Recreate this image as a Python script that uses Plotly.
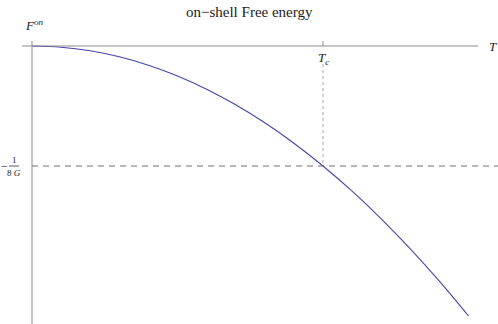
import plotly.graph_objects as go

# Temperature in units of Tc, free energy in units of 1/(8G)
T_vals = [0.0, 0.1, 0.2, 0.3, 0.4, 0.5, 0.6, 0.7, 0.8, 0.9, 1.0, 1.1, 1.2, 1.3, 1.4, 1.5]
F_vals = [0.0, -0.01, -0.04, -0.09, -0.16, -0.25, -0.36, -0.49, -0.64, -0.81, -1.0,
          -1.21, -1.44, -1.69, -1.96, -2.25]
Tc = 1.0
F_crit = -1.0

serif = "Liberation Serif, Times New Roman, serif"
axis_col = "#8c8c8c"
txt = "#222222"

xr = [-32 / 291, (498 - 32) / 291]
yr = [-(324 - 46) / 120, 46 / 120]

fig = go.Figure()
fig.add_trace(go.Scatter(x=T_vals, y=F_vals, mode="lines",
                         line=dict(color="#4444aa", width=1.1, shape="spline"),
                         hoverinfo="skip", showlegend=False))

shapes = [
    dict(type="line", xref="x", yref="y", x0=-10 / 291, x1=(478 - 32) / 291, y0=0, y1=0,
         line=dict(color=axis_col, width=1)),
    dict(type="line", xref="x", yref="y", x0=0, x1=0, y0=5 / 120, y1=yr[0],
         line=dict(color=axis_col, width=1)),
    dict(type="line", xref="x", yref="y", x0=Tc, x1=Tc, y0=0, y1=5 / 120,
         line=dict(color=axis_col, width=1)),
    dict(type="line", xref="x", yref="y", x0=Tc, x1=Tc, y0=-18 / 120, y1=F_crit,
         line=dict(color="#a8a8a8", width=1, dash="dot")),
    dict(type="line", xref="x", yref="y", x0=0, x1=xr[1], y0=F_crit, y1=F_crit,
         line=dict(color="#665a6a", width=0.9, dash="6px,5px")),
    dict(type="line", xref="x", yref="y", x0=-23 / 291, x1=-13 / 291, y0=F_crit, y1=F_crit,
         line=dict(color="#333333", width=0.8)),
]

ann = [
    dict(x=0.5, y=1 - 12 / 324, xref="paper", yref="paper", yanchor="middle",
         text="on−shell Free energy", showarrow=False,
         font=dict(family=serif, size=15, color=txt)),
    dict(x=(493 - 32) / 291, y=0, xref="x", yref="y", text="<i>T</i>", showarrow=False,
         font=dict(family=serif, size=13, color=txt)),
    dict(x=0, y=21 / 120, xref="x", yref="y", text="<i>F</i><sup><i>on</i></sup>",
         xanchor="left", xshift=-9,
         showarrow=False, font=dict(family=serif, size=13, color=txt)),
    dict(x=Tc, y=-12 / 120, xref="x", yref="y", text="<i>T</i><sub><i>c</i></sub>",
         showarrow=False, font=dict(family=serif, size=13, color=txt)),
    dict(x=-28 / 291, y=F_crit, xref="x", yref="y", text="−", showarrow=False,
         font=dict(family=serif, size=12, color=txt)),
    dict(x=-18 / 291, y=F_crit + 6 / 120, xref="x", yref="y", text="1", showarrow=False,
         font=dict(family=serif, size=9, color=txt)),
    dict(x=-18 / 291, y=F_crit - 7 / 120, xref="x", yref="y", text="8 <i>G</i>",
         showarrow=False, font=dict(family=serif, size=9, color=txt)),
]

fig.update_layout(
    width=498, height=324,
    margin=dict(l=0, r=0, t=0, b=0),
    paper_bgcolor="white", plot_bgcolor="white",
    xaxis=dict(range=xr, visible=False, fixedrange=True),
    yaxis=dict(range=yr, visible=False, fixedrange=True),
    shapes=shapes, annotations=ann, showlegend=False,
)

fig.write_html("out.html", config={"displayModeBar": False},
               post_script="document.body.style.margin='0';document.body.style.overflow='hidden';")
